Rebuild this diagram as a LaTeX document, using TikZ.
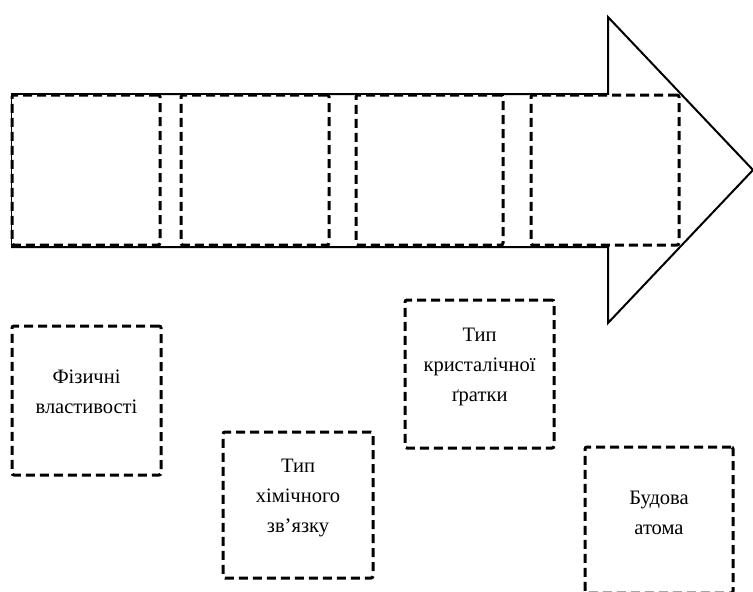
\documentclass[tikz,border=0pt]{standalone}
\usepackage{fontspec}
\setmainfont{Liberation Serif}
\begin{document}
\begin{tikzpicture}[x=1pt,y=-1pt,
  dbox/.style={draw=black, fill=white, line width=3pt, dash pattern=on 9pt off 5pt,
    rounded corners=2pt, minimum width=#1, inner sep=0pt},
  dbox/.default=148pt,
  txt/.style={align=center, inner sep=0pt, font=\fontsize{20.5}{30}\selectfont}]
\clip (0,0) rectangle (753,592);
\fill[white] (0,0) rectangle (753,592);
% big arrow
\draw[line width=2pt, line join=miter] (12,94) -- (608,94) -- (608,17) -- (753,170) -- (608,323) -- (608,247) -- (12,247) -- cycle;
% boxes inside arrow
\node[dbox=148pt, minimum height=150pt] (b1) at (86,170) {};
\node[dbox=148pt, minimum height=150pt] (b2) at (255,170) {};
\node[dbox=147pt, minimum height=150pt] (b3) at (429.5,170) {};
\node[dbox=148pt, minimum height=150pt] (b4) at (605,170) {};
% lower boxes
\node[dbox=149pt, minimum height=149pt] (f) at (86.5,400.5) {};
\node[dbox=150pt, minimum height=146pt] (h) at (298,505) {};
\node[dbox=149pt, minimum height=148pt] (k) at (479.5,374) {};
\node[dbox=148pt, minimum height=146pt] (a) at (659,520) {};
\node[txt] (ft) at ([yshift=9pt]f.center) {Фізичні\\властивості};
\node[txt] (ht) at ([yshift=7pt]h.center) {Тип\\хімічного\\зв’язку};
\node[txt] (kt) at ([yshift=7pt]k.center) {Тип\\кристалічної\\ґратки};
\node[txt] (at) at ([yshift=7pt]a.center) {Будова\\атома};
\end{tikzpicture}
\end{document}
